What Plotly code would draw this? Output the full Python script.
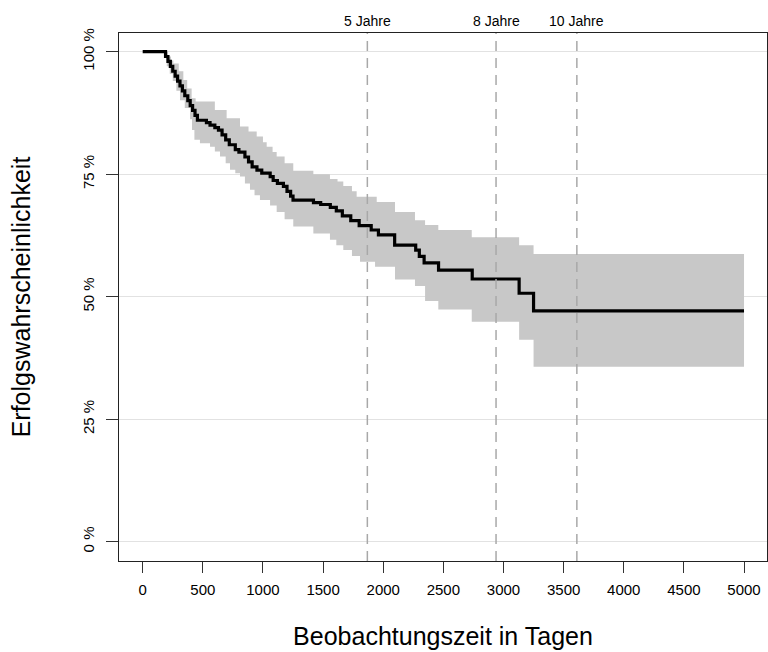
import plotly.graph_objects as go

# Kaplan-Meier estimate (step times in days, survival probability)
km_time = [0, 190, 210, 230, 250, 270, 290, 310, 330, 350, 375, 395, 415, 435, 455,
           530, 560, 600, 630, 660, 690, 720, 770, 800, 850, 880, 910, 950, 990,
           1060, 1085, 1120, 1170, 1200, 1230, 1250, 1420, 1480, 1560, 1610, 1660,
           1730, 1800, 1900, 1960, 2095, 2270, 2300, 2340, 2460, 2740, 3130, 3250]
km_surv = [1.0, 0.99, 0.98, 0.97, 0.96, 0.95, 0.94, 0.93, 0.92, 0.91, 0.90, 0.89, 0.88,
           0.87, 0.86, 0.855, 0.85, 0.845, 0.84, 0.83, 0.82, 0.81, 0.80, 0.795, 0.785,
           0.775, 0.765, 0.758, 0.752, 0.745, 0.737, 0.731, 0.725, 0.715, 0.705, 0.697,
           0.692, 0.688, 0.682, 0.675, 0.665, 0.655, 0.645, 0.636, 0.626, 0.605, 0.595,
           0.582, 0.569, 0.554, 0.536, 0.507, 0.471]

# Upper confidence limit
ci_up_time = [0, 210, 235, 255, 300, 338, 370, 407, 440, 600, 698, 809, 880, 948,
              1000, 1031, 1080, 1114, 1180, 1252, 1419, 1557, 1620, 1668, 1740, 1779,
              1946, 2098, 2264, 2348, 2458, 2736, 3130, 3250]
ci_up = [1.0, 0.99, 0.982, 0.976, 0.96, 0.942, 0.925, 0.905, 0.898, 0.881, 0.864,
         0.847, 0.837, 0.827, 0.815, 0.806, 0.795, 0.786, 0.772, 0.757, 0.750, 0.740,
         0.735, 0.726, 0.715, 0.704, 0.693, 0.673, 0.656, 0.646, 0.636, 0.621, 0.605,
         0.587]

# Lower confidence limit
ci_lo_time = [0, 200, 225, 250, 280, 310, 350, 394, 410, 430, 476, 560, 600, 643,
              690, 726, 770, 809, 850, 892, 930, 975, 1059, 1114, 1180, 1252, 1419,
              1557, 1610, 1668, 1740, 1807, 1932, 2098, 2264, 2348, 2458, 2736, 3130,
              3250]
ci_lo = [1.0, 0.97, 0.955, 0.94, 0.92, 0.901, 0.885, 0.862, 0.84, 0.82, 0.813, 0.806,
         0.796, 0.786, 0.772, 0.759, 0.752, 0.745, 0.731, 0.718, 0.707, 0.697, 0.686,
         0.673, 0.658, 0.643, 0.629, 0.616, 0.605, 0.595, 0.583, 0.571, 0.561, 0.535,
         0.522, 0.491, 0.474, 0.449, 0.412, 0.357]

t_end = 5000

# Reference lines (days) and labels
year_days = [1868, 2938, 3610]
year_labels = ["5 Jahre", "8 Jahre", "10 Jahre"]

y_ticks = [0, 0.25, 0.5, 0.75, 1.0]
y_ticklabels = ["0 %", "25 %", "50 %", "75 %", "100 %"]
x_ticks = [0, 500, 1000, 1500, 2000, 2500, 3000, 3500, 4000, 4500, 5000]

FONT = "Liberation Sans, Arial, Helvetica, sans-serif"
BAND = "#C8C8C8"

fig = go.Figure()

# confidence band: lower step line, then upper filled to it
fig.add_trace(go.Scatter(
    x=ci_lo_time + [t_end], y=ci_lo + [ci_lo[-1]],
    mode="lines", line=dict(shape="hv", width=0, color=BAND),
    hoverinfo="skip", showlegend=False))
fig.add_trace(go.Scatter(
    x=ci_up_time + [t_end], y=ci_up + [ci_up[-1]],
    mode="lines", line=dict(shape="hv", width=0, color=BAND),
    fill="tonexty", fillcolor=BAND, hoverinfo="skip", showlegend=False))

# KM curve
fig.add_trace(go.Scatter(
    x=km_time + [t_end], y=km_surv + [km_surv[-1]],
    mode="lines", line=dict(shape="hv", width=3.2, color="black"),
    showlegend=False))

for d, lab in zip(year_days, year_labels):
    fig.add_shape(type="line", xref="x", yref="paper", x0=d, x1=d, y0=0, y1=1,
                  line=dict(color="#A8A8A8", width=1.5, dash="10px,7px"), layer="above")
    fig.add_annotation(x=d, xref="x", y=1.0233, yref="paper", text=lab,
                       showarrow=False, xanchor="center", yanchor="middle",
                       font=dict(family=FONT, size=14, color="black"))

fig.update_layout(
    width=768, height=652,
    margin=dict(l=119, r=1, t=33, b=91),
    paper_bgcolor="white", plot_bgcolor="white",
    font=dict(family=FONT, size=14, color="black"),
)
fig.update_xaxes(
    range=[-197, 5191], tickvals=x_ticks, ticks="outside", ticklen=11,
    tickwidth=1, tickcolor="#333", showgrid=False, zeroline=False,
    showline=True, mirror=True, linecolor="#222", linewidth=1,
    tickfont=dict(size=15), ticklabelstandoff=4,
    title=dict(text="Beobachtungszeit in Tagen", font=dict(size=25), standoff=30),
)
fig.update_yaxes(
    range=[-0.0394, 1.038], tickvals=y_ticks, ticktext=y_ticklabels,
    ticks="outside", ticklen=12, tickwidth=1, tickcolor="#333",
    tickangle=-90, showgrid=True, gridcolor="#E2E2E2", gridwidth=1,
    zeroline=False, showline=True, mirror=True, linecolor="#222", linewidth=1,
    tickfont=dict(size=15), ticklabelstandoff=6,
    title=dict(text="Erfolgswahrscheinlichkeit", font=dict(size=25), standoff=42),
)

fig.write_html("out.html")
